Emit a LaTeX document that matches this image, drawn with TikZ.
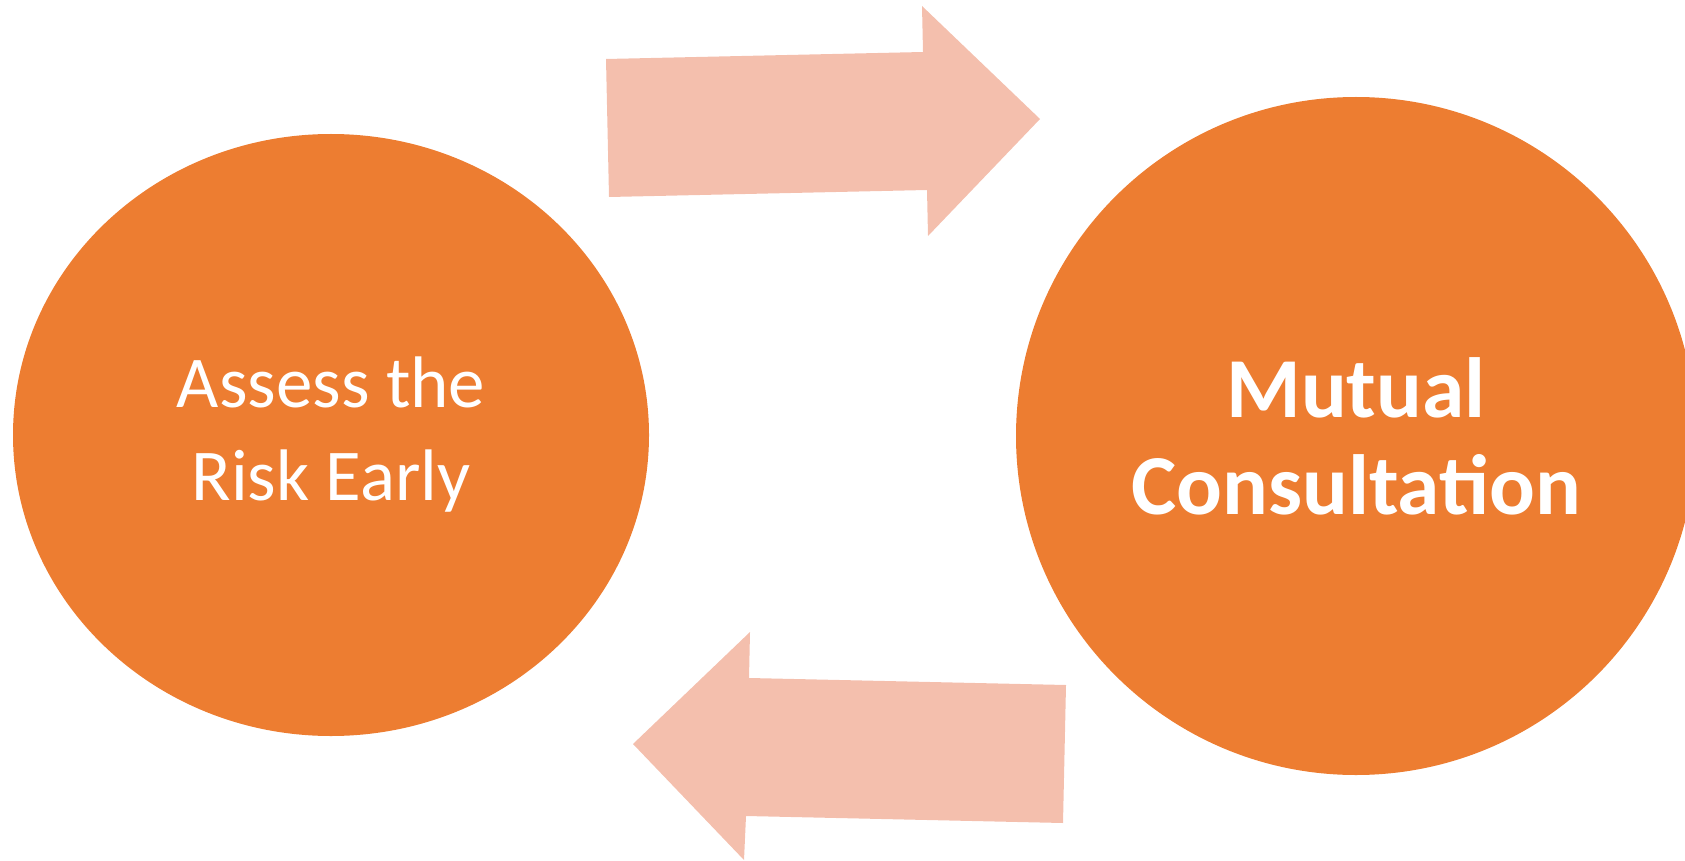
\documentclass[tikz,border=0pt]{standalone}
\usepackage{fontspec}
\setmainfont{Carlito}
\usetikzlibrary{shapes.geometric}
\definecolor{blobcol}{HTML}{ED7D31}
\definecolor{flowcol}{HTML}{F4BFAD}
\def\pix{0.5pt}

\begin{document}
\begin{tikzpicture}[x=\pix, y=-\pix,
  blob/.style={ellipse, fill=blobcol, inner sep=0pt, text=white, align=center},
  flow/.style={fill=flowcol}]
  \useasboundingbox (0,0) rectangle (1685,861);
  \clip (0,0) rectangle (1685,861);
  % the two stages
  \node[blob, minimum width=318pt, minimum height=301pt,
    font=\fontsize{36.5}{46.5}\selectfont] (assess) at (331,435) {Assess the\\Risk Early};
  \node[blob, minimum width=340pt, minimum height=339pt,
    font=\bfseries\fontsize{42.7}{48.5}\selectfont] (mutual) at (1356,436) {Mutual\\Consultation};
  % block arrows, forth and back
  \fill[flow] (606,59) -- (923,52) -- (922,6) -- (1040,119) -- (928,236) -- (927,190) -- (609,197) -- cycle;
  \fill[flow] (1066,685) -- (749,678) -- (750,632) -- (633,744) -- (744,860) -- (746,816) -- (1063,823) -- cycle;
\end{tikzpicture}
\end{document}
